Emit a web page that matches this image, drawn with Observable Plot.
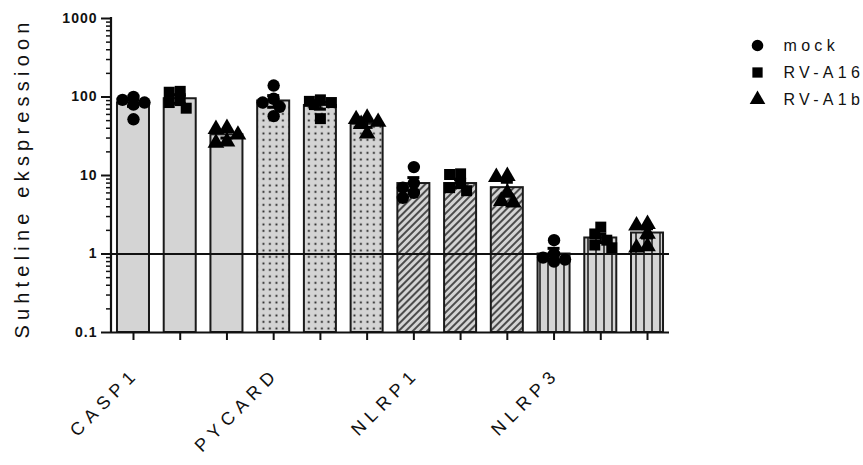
<!DOCTYPE html>
<html><head><meta charset="utf-8">
<script src="https://cdn.jsdelivr.net/npm/d3@7"></script>
<script src="https://cdn.jsdelivr.net/npm/@observablehq/plot@0.6"></script>
<style>
body{margin:0;background:#fff;font-family:"Liberation Sans",Arial,sans-serif}
#wrap{position:relative;width:863px;height:465px;overflow:hidden}
#ytitle{position:absolute;left:22px;top:178px;transform:translate(-50%,-50%) rotate(-90deg);font-size:20px;letter-spacing:5.2px;white-space:nowrap;color:#111}
#legend{position:absolute;left:745px;top:25px}
</style>
</head><body><div id="wrap"><div id="chart"></div><div id="ytitle">Suhteline ekspressioon</div><div id="legend"></div></div>
<script>
const genes = ["CASP1", "PYCARD", "NLRP1", "NLRP3"];
const groups = ["mock", "RV-A16", "RV-A1b"];
const barMeans = [84, 95, 33, 89, 78, 45, 7.9, 7.9, 7.0, 1.0, 1.6, 1.85];
const barSems = [8, 12, 3, 15, 8, 4, 1.5, 0.9, 1.2, 0.18, 0.2, 0.25];
const replicateValues = [
  [100, 92, 85, 80, 52],
  [118, 115, 90, 85, 72],
  [40, 39, 33, 27, 26],
  [140, 95, 85, 75, 57],
  [92, 88, 85, 80, 53],
  [54, 52, 48, 45, 34],
  [12.8, 8, 7, 6, 5.2],
  [10.5, 10.3, 8, 7, 6.4],
  [9.8, 9.5, 6, 4.7, 4.5],
  [1.5, 1.0, 0.9, 0.85, 0.8],
  [2.2, 1.8, 1.5, 1.3, 1.2],
  [2.4, 2.3, 1.8, 1.25, 1.2]
];
const yTickValues = [0.1, 1, 10, 100, 1000];
const yTickLabels = ["0.1", "1", "10", "100", "1000"];
const symbolRange = ["circle", "square", "triangle"];

const keys = genes.flatMap(g => groups.map(s => g + "|" + s));
const bars = keys.map((k, i) => ({key: k, gene: genes[Math.floor(i / 3)], group: groups[i % 3], mean: barMeans[i], sem: barSems[i]}));

// simple dodge layout for replicate symbols (layout only)
const ly = d3.scaleLog().domain([0.1, 1000]).range([332, 18]);
const cand = [0, -6, 6, -11, 11];
const pts = [];
replicateValues.forEach((vals, i) => {
  const placed = [];
  [...vals].sort((a, b) => b - a).forEach(v => {
    const py = ly(v);
    let best = 0, bestD = -1;
    for (const o of cand) {
      const d = placed.length ? Math.min(...placed.map(p => Math.hypot(p.o - o, p.py - py))) : 99;
      if (d >= 9) { best = o; bestD = 99; break; }
      if (d > bestD) { bestD = d; best = o; }
    }
    placed.push({o: best, py});
    pts.push({key: keys[i], group: bars[i].group, value: v, off: best});
  });
});
const offsets = [...new Set(pts.map(p => p.off))];

const minorTicks = [];
for (let e = -1; e < 3; e++) for (let m = 2; m <= 9; m++) minorTicks.push(m * Math.pow(10, e));

const defsMark = () => {
  const g = d3.create("svg:g");
  const defs = g.append("defs");
  const dots = defs.append("pattern").attr("id", "pdots").attr("patternUnits", "userSpaceOnUse").attr("width", 6.5).attr("height", 6.5);
  dots.append("rect").attr("width", 6.5).attr("height", 6.5).attr("fill", "#d4d4d4");
  dots.append("rect").attr("x", 2.5).attr("y", 2.5).attr("width", 1.8).attr("height", 1.8).attr("fill", "#111");
  const hatch = defs.append("pattern").attr("id", "phatch").attr("patternUnits", "userSpaceOnUse").attr("width", 5).attr("height", 5).attr("patternTransform", "rotate(45)");
  hatch.append("rect").attr("width", 5).attr("height", 5).attr("fill", "#d4d4d4");
  hatch.append("line").attr("x1", 1).attr("x2", 1).attr("y1", 0).attr("y2", 5).attr("stroke", "#111").attr("stroke-width", 1.4);
  const vl = defs.append("pattern").attr("id", "pvl").attr("patternUnits", "userSpaceOnUse").attr("width", 8).attr("height", 8);
  vl.append("rect").attr("width", 8).attr("height", 8).attr("fill", "#d4d4d4");
  vl.append("line").attr("x1", 4).attr("x2", 4).attr("y1", 0).attr("y2", 8).attr("stroke", "#222").attr("stroke-width", 1.6);
  return g.node();
};
const yLineMark = (index, scales, values, dims) => {
  const g = d3.create("svg:g");
  g.append("line").attr("x1", dims.marginLeft).attr("x2", dims.marginLeft)
    .attr("y1", dims.marginTop - 1).attr("y2", dims.height - dims.marginBottom + 1)
    .attr("stroke", "#111").attr("stroke-width", 2.2);
  return g.node();
};

const fills = {CASP1: "#d4d4d4", PYCARD: "url(#pdots)", NLRP1: "url(#phatch)", NLRP3: "url(#pvl)"};

const chart = Plot.plot({
  width: 863, height: 465,
  marginLeft: 111, marginTop: 18, marginBottom: 133, marginRight: 194,
  style: {fontFamily: "'Liberation Sans', Arial, sans-serif", fontSize: "13px", color: "#111", background: "#fff"},
  x: {type: "band", domain: keys, paddingInner: 0.315, paddingOuter: 0.128, round: false, axis: null},
  y: {type: "log", domain: [0.1, 1000], axis: null},
  symbol: {domain: groups, range: symbolRange},
  marks: [
    defsMark,
    ...genes.map(g => Plot.barY(bars.filter(b => b.gene === g), {x: "key", y1: 0.1, y2: "mean", fill: fills[g], stroke: "#1a1a1a", strokeWidth: 2})),
    Plot.ruleY([1], {stroke: "#111", strokeWidth: 2.2}),
    Plot.ruleY([0.1], {stroke: "#111", strokeWidth: 2.2}),
    yLineMark,
    Plot.axisY(minorTicks, {tickSize: 5, tickFormat: () => "", strokeWidth: 1.5, stroke: "#111", label: null}),
    Plot.axisY(yTickValues, {tickSize: 10, tickPadding: 4, strokeWidth: 2, stroke: "#111", fill: "#111",
      tickFormat: d => yTickLabels[yTickValues.indexOf(d)], fontWeight: "bold", fontSize: 14, label: null}),
    Plot.axisX(keys, {tickSize: 8, tickFormat: () => "", strokeWidth: 2, stroke: "#111", label: null}),
    Plot.ruleX(bars, {x: "key", y1: d => d.mean - d.sem, y2: d => d.mean + d.sem, stroke: "#000", strokeWidth: 2}),
    Plot.tickY(bars, {x: "key", y: d => d.mean + d.sem, insetLeft: 10, insetRight: 10, stroke: "#000", strokeWidth: 3}),
    Plot.tickY(bars, {x: "key", y: d => d.mean - d.sem, insetLeft: 10, insetRight: 10, stroke: "#000", strokeWidth: 3}),
    ...offsets.map(o => Plot.dot(pts.filter(p => p.off === o), {x: "key", y: "value", symbol: "group", fill: "#000", stroke: "none", r: 6.2, dx: o})),
    Plot.text(genes, {x: g => g + "|RV-A16", y: 0.1, text: d => d, rotate: -45, textAnchor: "end", dx: -44, dy: 38, fontSize: 18, fill: "#111"})
  ]
});
d3.select(chart).selectAll("text").filter(function() { return genes.includes(this.textContent); }).style("letter-spacing", "6px");
d3.select(chart).selectAll("text").filter(function() { return yTickLabels.includes(this.textContent); }).style("letter-spacing", "1px");
document.getElementById("chart").appendChild(chart);

const legend = Plot.plot({
  width: 118, height: 100, margin: 0,
  style: {fontFamily: "'Liberation Sans', Arial, sans-serif", background: "transparent"},
  y: {type: "point", domain: groups, range: [20, 74], padding: 0, axis: null},
  symbol: {domain: groups, range: symbolRange},
  marks: [
    Plot.dot(groups, {y: d => d, symbol: d => d, fill: "#000", r: 5.8, frameAnchor: "left", dx: 12}),
    Plot.text(groups, {y: d => d, text: d => d, frameAnchor: "left", dx: 38, textAnchor: "start", fontSize: 16, fill: "#111"})
  ]
});
d3.select(legend).selectAll("text").filter(function() { return groups.includes(this.textContent); }).style("letter-spacing", "4.3px");
document.getElementById("legend").appendChild(legend);
</script></body></html>
